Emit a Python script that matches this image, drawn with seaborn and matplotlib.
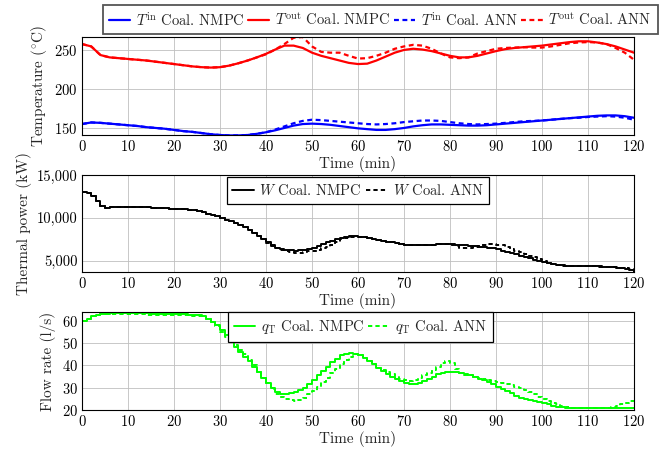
import numpy as np
import pandas as pd
import matplotlib
matplotlib.use("Agg")
import matplotlib.pyplot as plt
import seaborn as sns
from matplotlib.ticker import FuncFormatter

# ---------------- data ----------------
t_temp = list(range(0, 121, 2))
tout_nmpc = [257, 254, 243, 240, 239, 238, 237, 236, 234.5, 233, 231.5, 230, 228.5, 227.5, 227,
             227.5, 229.5, 232.5, 236, 240, 244.5, 250, 255, 255, 252, 246, 242, 239, 236, 233,
             231.5, 232, 236, 241, 246, 249.5, 251, 250, 248, 245, 242, 240, 240, 242, 245,
             248, 250.5, 252, 253, 254, 255, 256.5, 258, 259.5, 260.5, 260.5, 259, 257, 254, 250, 246]
tout_ann = [257, 254, 243, 240, 239, 238, 237, 236, 234.5, 233, 231.5, 230, 228.5, 227.5, 227,
            227.5, 229.5, 232.5, 236, 240, 244, 250, 257, 265, 266, 254, 247, 246, 246, 242,
            238.5, 239, 242, 246, 251, 254, 256, 255, 251, 245, 240, 239, 240, 245, 248,
            251, 252, 252.5, 253, 252.5, 252.5, 254, 256, 258, 259, 259.5, 259, 257, 252, 246, 237]
tin_nmpc = [155, 157, 156.5, 155.5, 154.5, 153.5, 152.5, 151, 150, 149, 147.5, 146, 145, 143.5, 142,
            141, 140.5, 140.5, 141, 142.5, 144.5, 147, 150, 153, 155, 155.5, 155, 154, 152.5, 151,
            149.5, 148.5, 147.5, 147.5, 148.5, 150, 152, 153.5, 154.5, 154.5, 154, 153.5, 153, 153, 153.5,
            154.5, 155.5, 156.5, 157.5, 158.5, 159.5, 160.5, 161.5, 162.5, 163.5, 164.5, 165.5, 166, 166, 165, 163]
tin_ann = [155, 157, 156.5, 155.5, 154.5, 153.5, 152.5, 151, 150, 149, 147.5, 146, 145, 143.5, 142,
           141, 140.5, 140.5, 141, 142.5, 144.5, 148, 152, 156, 159, 160.5, 160, 159, 158, 157,
           156, 155, 154.5, 155, 156, 157.5, 158.5, 159.5, 159.5, 159, 157.5, 156, 155, 154.5, 155,
           155.5, 156.5, 157.5, 158.5, 159, 159.5, 160.5, 161.5, 162.5, 163, 164, 164.5, 165, 164.5, 163, 160.5]

t_step = list(range(0, 121))
w_nmpc = [13000, 12900, 12600, 12000, 11400, 11200, 11250, 11300, 11300, 11300,
          11300, 11280, 11260, 11250, 11230, 11200, 11180, 11150, 11120, 11080,
          11050, 11020, 11000, 10950, 10900, 10800, 10650, 10500, 10350, 10200,
          10000, 9800, 9600, 9400, 9150, 8900, 8600, 8300, 7950, 7550,
          7150, 6800, 6550, 6400, 6300, 6250, 6200, 6250, 6300, 6400,
          6550, 6750, 6950, 7150, 7350, 7550, 7700, 7800, 7850, 7850,
          7800, 7750, 7650, 7550, 7450, 7350, 7250, 7150, 7050, 6950,
          6900, 6850, 6850, 6850, 6850, 6850, 6900, 6950, 7000, 7000,
          6950, 6900, 6850, 6800, 6750, 6700, 6650, 6600, 6550, 6450,
          6350, 6200, 6050, 5900, 5750, 5600, 5450, 5300, 5150, 5000,
          4850, 4750, 4650, 4550, 4500, 4450, 4450, 4430, 4420, 4410,
          4400, 4380, 4350, 4320, 4290, 4250, 4200, 4130, 4050, 3900, 3750]
w_ann = [13000, 12900, 12600, 12000, 11400, 11200, 11250, 11300, 11300, 11300,
         11300, 11280, 11260, 11250, 11230, 11200, 11180, 11150, 11120, 11080,
         11050, 11020, 11000, 10950, 10900, 10800, 10650, 10500, 10350, 10200,
         10000, 9800, 9600, 9400, 9150, 8900, 8600, 8300, 7950, 7550,
         7100, 6750, 6450, 6250, 6100, 6000, 5950, 5950, 6000, 6100,
         6200, 6300, 6450, 6650, 6900, 7200, 7500, 7700, 7800, 7800,
         7800, 7750, 7650, 7550, 7450, 7350, 7250, 7150, 7050, 6950,
         6900, 6850, 6850, 6850, 6850, 6850, 6900, 6950, 7000, 7000,
         6900, 6700, 6550, 6500, 6550, 6650, 6750, 6850, 6950, 6950,
         6900, 6800, 6600, 6400, 6200, 6000, 5800, 5600, 5400, 5200,
         5000, 4800, 4650, 4500, 4450, 4420, 4400, 4400, 4390, 4380,
         4370, 4350, 4330, 4310, 4290, 4260, 4230, 4200, 4150, 4050, 3900]
q_nmpc = [60, 61, 62, 62.5, 63, 63.2, 63.4, 63.5, 63.5, 63.5,
          63.5, 63.5, 63.5, 63.4, 63.4, 63.3, 63.3, 63.2, 63.2, 63.1,
          63, 63, 62.9, 62.8, 62.7, 62.5, 62, 61, 59.5, 58,
          56, 53.5, 51, 48.5, 46, 44, 42, 39.5, 37, 34.5,
          32, 30, 28, 27, 27, 27.5, 28, 29, 30, 31.5,
          33.5, 35.5, 37.5, 39.5, 41.5, 43, 44.5, 45, 45.5, 45,
          44.5, 43.5, 42, 40.5, 39, 37.5, 36, 35, 34, 33,
          32, 31.5, 31.5, 32, 33, 34, 35, 36, 36.5, 37,
          37, 37, 36.5, 36, 35.5, 35, 34, 33.5, 32.5, 31.5,
          30.5, 29.5, 28.5, 27.5, 26.5, 25.5, 25, 24.5, 24, 23.5,
          23, 22.5, 22, 21.5, 21.3, 21, 21, 21, 21, 21,
          21, 21, 21, 21, 21, 21, 21, 21, 21, 21, 21]
q_ann = [60, 61, 62, 62.5, 63, 63.1, 63.2, 63.2, 63.2, 63.1,
         63, 63, 62.9, 62.9, 62.8, 62.8, 62.7, 62.7, 62.6, 62.6,
         62.6, 62.6, 62.5, 62.5, 62.4, 62.3, 61.8, 61, 59.5, 57.5,
         55, 53, 51, 49, 47, 45, 42.5, 40, 37, 34.5,
         32, 29.5, 27, 26, 25, 24.5, 24, 24.5, 25.5, 27,
         28.5, 30.5, 32.5, 34.5, 36.5, 38.5, 40.5, 42.5, 44, 45,
         44.5, 43.5, 42, 40.5, 39, 38, 37, 36, 35, 34,
         33.5, 33, 33.5, 34.5, 35.5, 36.5, 38, 39.5, 41, 42,
         41, 38.5, 36.5, 35.5, 35.5, 35, 34.5, 34, 33.5, 33,
         32.5, 32, 31.5, 31, 30.5, 30, 29, 28, 27, 26,
         25, 24, 23, 22.5, 22, 21.5, 21, 21, 21, 21,
         21, 21, 21, 21, 21, 21.5, 22, 22.5, 23, 24, 24]

# ---------------- style ----------------
sns.set_style("whitegrid")
plt.rcParams.update({
    "font.family": ["cmr10", "DejaVu Serif"],
    "mathtext.fontset": "cm",
    "axes.formatter.use_mathtext": True,
    "axes.edgecolor": "black",
    "axes.linewidth": 0.8,
    "grid.color": "#bfbfbf",
    "grid.linewidth": 0.6,
    "xtick.direction": "in",
    "ytick.direction": "in",
    "xtick.color": "black",
    "ytick.color": "black",
    "font.size": 10.5,
})

fig = plt.figure(figsize=(6.62, 4.49), dpi=100)
L, W = 0.1239, 0.8338
ax1 = fig.add_axes([L, 0.6993, W, 0.2183])
ax2 = fig.add_axes([L, 0.3942, W, 0.2160])
ax3 = fig.add_axes([L, 0.0869, W, 0.2182])

BLUE = "#0000ff"
RED = "#ff0000"
GREEN = "#00ff00"
dash = (2.2, 1.6)

leg_kw = dict(frameon=True, fancybox=False, framealpha=1, fontsize=10.5,
              handlelength=1.45, columnspacing=0.25, handletextpad=0.4,
              borderpad=0.4, borderaxespad=0.0)

df_t = pd.DataFrame({"t": t_temp, "tin_n": tin_nmpc, "tout_n": tout_nmpc,
                     "tin_a": tin_ann, "tout_a": tout_ann})
sns.lineplot(data=df_t, x="t", y="tin_n", ax=ax1, color=BLUE, lw=1.6,
             label=r"$T^{\mathrm{in}}$ Coal. NMPC")
sns.lineplot(data=df_t, x="t", y="tout_n", ax=ax1, color=RED, lw=1.6,
             label=r"$T^{\mathrm{out}}$ Coal. NMPC")
sns.lineplot(data=df_t, x="t", y="tin_a", ax=ax1, color=BLUE, lw=1.6,
             label=r"$T^{\mathrm{in}}$ Coal. ANN", linestyle=(0, dash))
sns.lineplot(data=df_t, x="t", y="tout_a", ax=ax1, color=RED, lw=1.6,
             label=r"$T^{\mathrm{out}}$ Coal. ANN", linestyle=(0, dash))
ax1.set_ylim(141, 266)
ax1.set_yticks([150, 200, 250])
ax1.set_ylabel(r"Temperature ($^{\circ}$C)", fontsize=11)
lg1 = ax1.legend(loc="lower left", bbox_to_anchor=(0.038, 1.03), ncol=4,
                 edgecolor="#555555", **leg_kw)
lg1.get_frame().set_linewidth(1.3)

df_s = pd.DataFrame({"t": t_step, "w_n": w_nmpc, "w_a": w_ann,
                     "q_n": q_nmpc, "q_a": q_ann})
sns.lineplot(data=df_s, x="t", y="w_n", ax=ax2, color="black", lw=1.4,
             drawstyle="steps-post", label=r"$W$ Coal. NMPC")
sns.lineplot(data=df_s, x="t", y="w_a", ax=ax2, color="black", lw=1.4,
             drawstyle="steps-post", label=r"$W$ Coal. ANN", linestyle=(0, dash))
ax2.set_ylim(3700, 15000)
ax2.set_yticks([5000, 10000, 15000])
ax2.yaxis.set_major_formatter(FuncFormatter(lambda v, p: f"{int(v):,}"))
ax2.set_ylabel("Thermal power (kW)", fontsize=11)
lg2 = ax2.legend(loc="upper center", ncol=2, edgecolor="black",
                 bbox_to_anchor=(0.5, 0.98), **leg_kw)
lg2.get_frame().set_linewidth(0.9)

sns.lineplot(data=df_s, x="t", y="q_n", ax=ax3, color=GREEN, lw=1.4,
             drawstyle="steps-post", label=r"$q_{\mathrm{T}}$ Coal. NMPC")
sns.lineplot(data=df_s, x="t", y="q_a", ax=ax3, color=GREEN, lw=1.4,
             drawstyle="steps-post", label=r"$q_{\mathrm{T}}$ Coal. ANN", linestyle=(0, dash))
ax3.set_ylim(20, 64)
ax3.set_yticks([20, 30, 40, 50, 60])
ax3.set_ylabel("Flow rate (l/s)", fontsize=11)
lg3 = ax3.legend(loc="upper center", ncol=2, edgecolor="black",
                 bbox_to_anchor=(0.505, 1.0), **leg_kw)
lg3.get_frame().set_linewidth(0.9)

for ax in (ax1, ax2, ax3):
    ax.set_xlim(0, 120)
    ax.set_xticks(range(0, 121, 10))
    ax.set_xlabel("Time (min)", labelpad=1, fontsize=11)
    ax.grid(True)
    ax.tick_params(length=3, width=0.6, pad=3)
    for s in ax.spines.values():
        s.set_color("black")
        s.set_linewidth(0.8)

fig.savefig("out.png", dpi=100)
